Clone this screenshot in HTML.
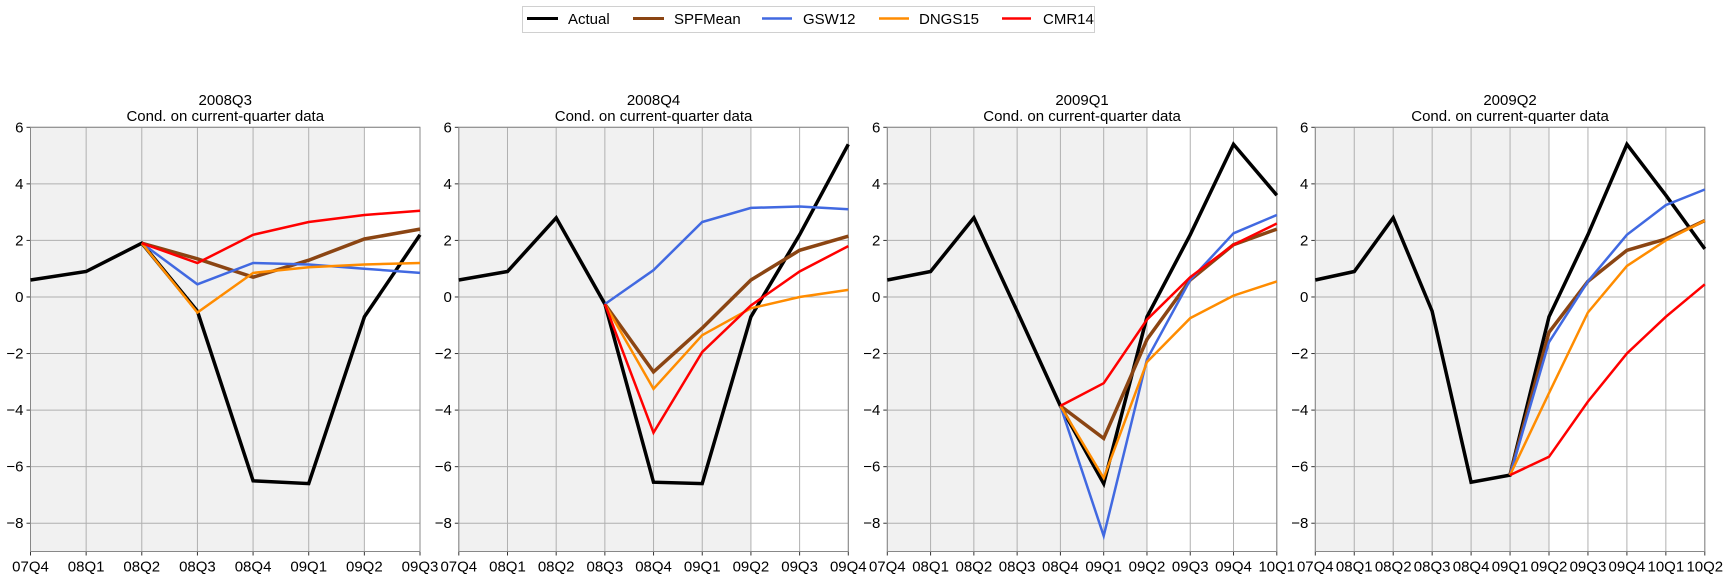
<!DOCTYPE html>
<html><head><meta charset="utf-8"><style>
html,body{margin:0;padding:0;background:#fff;}
svg{display:block;font-family:"Liberation Sans",Arial,sans-serif;}
</style></head><body>
<svg id="chart" width="1728" height="579" viewBox="0 0 1728 579" xmlns="http://www.w3.org/2000/svg">
<g>
<rect x="522.5" y="6.5" width="572" height="26" fill="#fff" stroke="#d0d0d0"/>
<line x1="527" y1="18.5" x2="558" y2="18.5" stroke="#000" stroke-width="3"/><text x="568" y="24" font-size="15">Actual</text>
<line x1="633" y1="18.5" x2="664" y2="18.5" stroke="#8B4513" stroke-width="3"/><text x="674" y="24" font-size="15">SPFMean</text>
<line x1="762" y1="18.5" x2="792" y2="18.5" stroke="#4169E1" stroke-width="2.5"/><text x="803" y="24" font-size="15">GSW12</text>
<line x1="879" y1="18.5" x2="909" y2="18.5" stroke="#FF8C00" stroke-width="2.5"/><text x="919" y="24" font-size="15">DNGS15</text>
<line x1="1002" y1="18.5" x2="1031" y2="18.5" stroke="#FF0000" stroke-width="2.5"/><text x="1043" y="24" font-size="15">CMR14</text>
</g>
</svg>
<script>
const quarters = ["07Q4","08Q1","08Q2","08Q3","08Q4","09Q1","09Q2","09Q3","09Q4","10Q1","10Q2"];
const panelTitles = ["2008Q3","2008Q4","2009Q1","2009Q2"];
const panelLengths = [8,9,10,11];
const forecastStart = [2,3,4,5];
const recessionEnd = 6;
const yTicks = [-8,-6,-4,-2,0,2,4,6];
const actual1 = [0.6,0.9,1.9,-0.5,-6.5,-6.6,-0.7,2.2];
const actual2 = [0.6,0.9,2.8,-0.25,-6.55,-6.6,-0.7,2.2,5.4];
const actual3 = [0.6,0.9,2.8,-0.5,-3.85,-6.6,-0.7,2.2,5.4,3.6];
const actual4 = [0.6,0.9,2.8,-0.5,-6.55,-6.3,-0.7,2.2,5.4,3.6,1.7];
const spf1 = [1.9,1.35,0.7,1.3,2.05,2.4];
const gsw1 = [1.9,0.45,1.2,1.15,1.0,0.85];
const dngs1 = [1.9,-0.55,0.85,1.05,1.15,1.2];
const cmr1 = [1.9,1.2,2.2,2.65,2.9,3.05];
const spf2 = [-0.25,-2.65,-1.1,0.6,1.65,2.15];
const gsw2 = [-0.25,0.95,2.65,3.15,3.2,3.1];
const dngs2 = [-0.25,-3.25,-1.35,-0.4,0.0,0.25];
const cmr2 = [-0.25,-4.8,-1.95,-0.3,0.9,1.8];
const spf3 = [-3.85,-5.0,-1.5,0.6,1.85,2.4];
const gsw3 = [-3.85,-8.45,-2.2,0.6,2.25,2.9];
const dngs3 = [-3.85,-6.4,-2.3,-0.75,0.05,0.55];
const cmr3 = [-3.85,-3.05,-0.8,0.7,1.85,2.6];
const spf4 = [-6.3,-1.25,0.55,1.65,2.05,2.7];
const gsw4 = [-6.3,-1.6,0.55,2.2,3.25,3.8];
const dngs4 = [-6.3,-3.4,-0.55,1.1,2.0,2.7];
const cmr4 = [-6.3,-5.65,-3.7,-2.0,-0.7,0.45];

const actuals=[actual1,actual2,actual3,actual4];
const spfs=[spf1,spf2,spf3,spf4], gsws=[gsw1,gsw2,gsw3,gsw4], dngss=[dngs1,dngs2,dngs3,dngs4], cmrs=[cmr1,cmr2,cmr3,cmr4];
const NS="http://www.w3.org/2000/svg";
const svgEl=document.getElementById('chart');
const plotTop=127.3, plotBottom=551.5, yMin=-9, yMax=6, pw=389.5;
const lefts=[30.5,458.8,887.3,1315.3];
function mk(tag,attrs,parent){const e=document.createElementNS(NS,tag);for(const k in attrs)e.setAttribute(k,attrs[k]);(parent||svgEl).appendChild(e);return e;}
function yS(v){return plotTop+(yMax-v)/(yMax-yMin)*(plotBottom-plotTop);}
for(let p=0;p<4;p++){
  const L=lefts[p], n=panelLengths[p];
  const xS=i=>L+i*pw/(n-1);
  const g=mk('g',{});
  
  
  const sh=mk('rect',{x:xS(0),y:plotTop,width:xS(recessionEnd)-xS(0),height:plotBottom-plotTop,fill:'#f1f1f1'},g);
  
  
  yTicks.forEach(t=>{
    mk('line',{x1:L,x2:L+pw,y1:yS(t),y2:yS(t),stroke:'#b0b0b0','stroke-width':1},g);
    mk('line',{x1:L-4,x2:L,y1:yS(t),y2:yS(t),stroke:'#333','stroke-width':1},g);
    const tx=mk('text',{x:L-7,y:yS(t)+5,'font-size':15,'text-anchor':'end'},g);
    tx.textContent=(t<0?'\u2212'+(-t):String(t));
    
    
  });
  for(let i=0;i<n;i++){
    mk('line',{x1:xS(i),x2:xS(i),y1:plotTop,y2:plotBottom,stroke:'#b0b0b0','stroke-width':1},g);
    mk('line',{x1:xS(i),x2:xS(i),y1:plotBottom,y2:plotBottom+4,stroke:'#333','stroke-width':1},g);
    const tx=mk('text',{x:xS(i),y:plotBottom+20,'font-size':15,'text-anchor':'middle'},g);
    tx.textContent=quarters[i];
    
    
  }
  mk('rect',{x:L,y:plotTop,width:pw,height:plotBottom-plotTop,fill:'none',stroke:'#888','stroke-width':1},g);
  const t1=mk('text',{x:L+pw/2,y:105,'font-size':15,'text-anchor':'middle'},g);
  t1.textContent=panelTitles[p];
  
  
  const t2=mk('text',{x:L+pw/2,y:121,'font-size':15,'text-anchor':'middle'},g);
  t2.textContent='Cond. on current-quarter data';
  
  
  const s=forecastStart[p];
  const series=[[actuals[p],0,'#000',3.5,'actual-line'],[spfs[p],s,'#8B4513',3.5,'spfmean-line'],[gsws[p],s,'#4169E1',2.5,'gsw12-line'],[dngss[p],s,'#FF8C00',2.5,'dngs15-line'],[cmrs[p],s,'#FF0000',2.5,'cmr14-line']];
  series.forEach(sr=>{
    const [arr,off,col,w,name]=sr;
    const pts=arr.map((v,i)=>xS(i+off).toFixed(1)+','+yS(v).toFixed(1)).join(' ');
    const pl=mk('polyline',{points:pts,fill:'none',stroke:col,'stroke-width':w},g);
    
    
  });
}
</script>
</body></html>
